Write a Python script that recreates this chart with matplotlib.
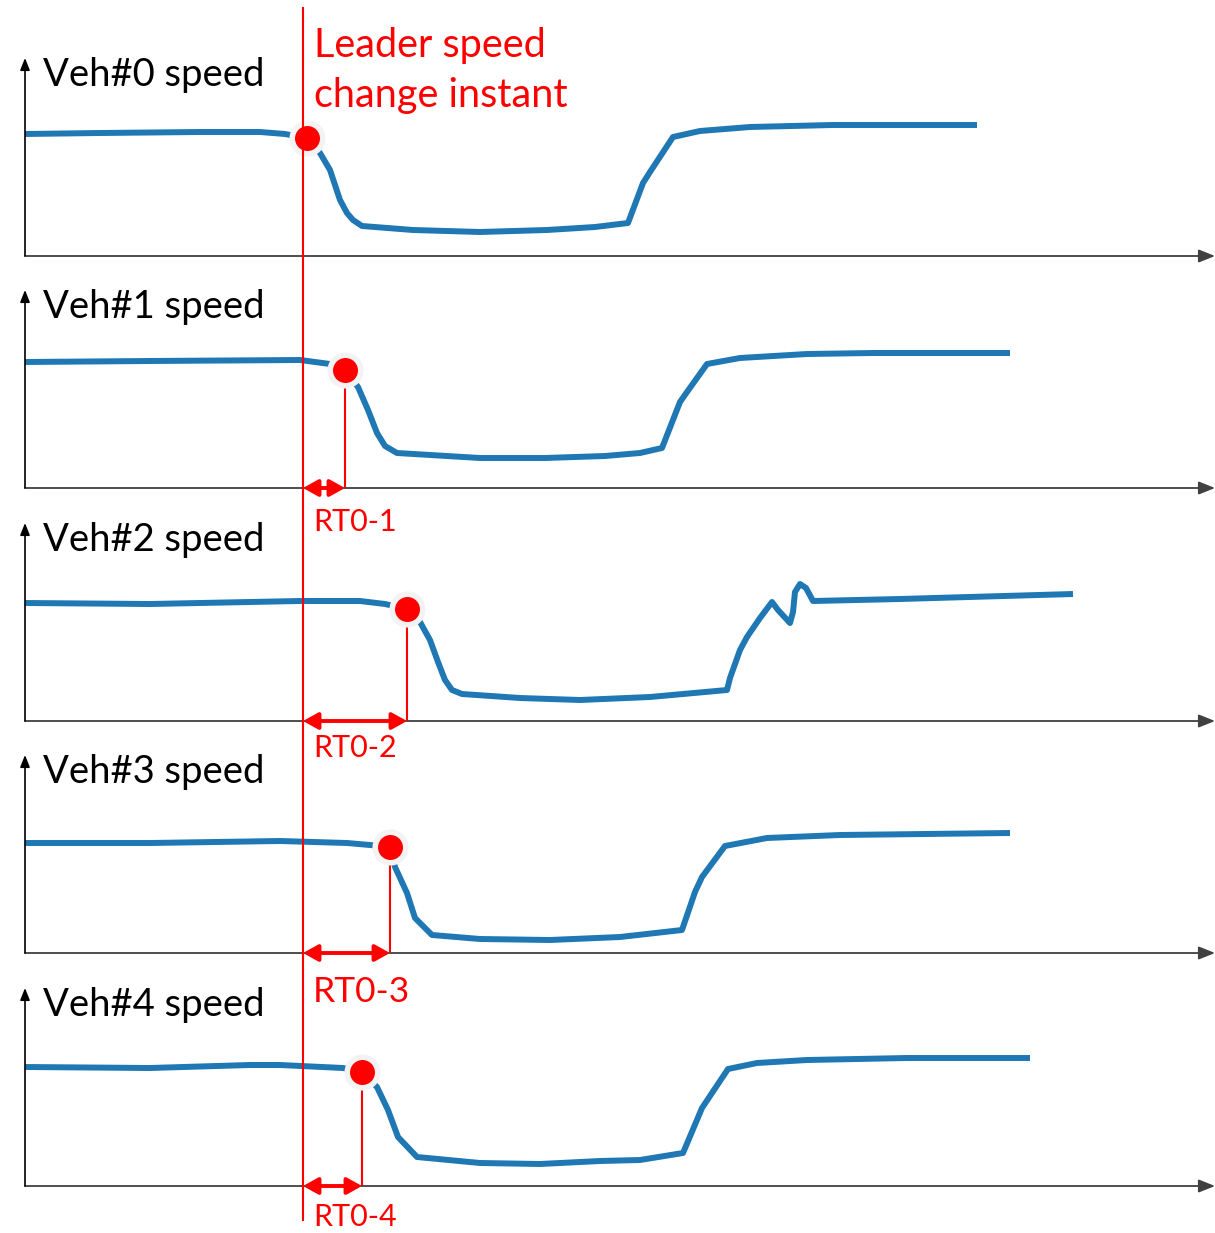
import matplotlib.pyplot as plt
import matplotlib.transforms as mtransforms
from matplotlib.lines import Line2D

plt.rcParams['font.family'] = ['Lato', 'DejaVu Sans']

# time / speed samples (arbitrary units)
t0 = [0, 7.5, 17.5, 23.5, 26.0, 28.2, 29.5, 30.5, 31.5, 32.2, 32.8, 33.7, 38.8, 45.5, 52.2, 57.0, 60.3, 61.8, 62.5, 64.8, 67.5, 72.5, 80.8, 95.2]
v0 = [12.2, 12.3, 12.4, 12.4, 12.2, 11.8, 10.3, 8.6, 5.6, 4.3, 3.6, 3.0, 2.6, 2.4, 2.6, 2.9, 3.3, 7.3, 8.4, 11.9, 12.5, 12.9, 13.1, 13.1]

t1 = [0, 12.5, 27.5, 30.5, 32.0, 33.3, 34.3, 35.2, 36.0, 37.2, 45.5, 52.0, 58.0, 61.5, 63.7, 65.5, 66.2, 68.2, 71.5, 78.2, 84.8, 98.5]
v1 = [12.6, 12.7, 12.8, 12.4, 11.8, 10.1, 7.8, 5.5, 4.2, 3.5, 3.0, 3.0, 3.2, 3.5, 4.0, 8.6, 9.6, 12.4, 13.0, 13.4, 13.5, 13.5]

t2 = [0, 12.5, 27.5, 33.5, 36.0, 38.2, 39.5, 40.5, 41.3, 42.0, 42.7, 43.7, 49.5, 55.5, 62.5, 70.2, 70.5, 71.5, 72.2, 73.5, 74.7, 75.3, 76.5, 76.8, 77.0, 77.5, 78.1, 78.8, 87.5, 104.8]
v2 = [11.8, 11.7, 12.0, 12.0, 11.7, 11.2, 9.9, 8.1, 5.9, 4.1, 3.1, 2.7, 2.3, 2.1, 2.4, 3.1, 4.3, 7.1, 8.4, 10.3, 11.9, 11.1, 9.8, 10.9, 12.9, 13.7, 13.3, 12.0, 12.2, 12.7]

t3 = [0, 12.5, 25.5, 32.2, 34.5, 36.5, 37.0, 38.2, 39.0, 40.7, 45.5, 52.5, 59.5, 65.7, 67.0, 67.7, 70.0, 74.2, 81.5, 98.5]
v3 = [11.0, 11.0, 11.2, 11.0, 10.8, 10.6, 8.6, 6.0, 3.5, 1.8, 1.4, 1.3, 1.6, 2.3, 6.1, 7.6, 10.7, 11.5, 11.8, 12.0]

t4 = [0, 12.5, 22.5, 25.5, 31.8, 33.7, 35.2, 36.3, 37.3, 39.2, 45.5, 51.5, 57.5, 61.5, 65.8, 67.7, 70.3, 73.2, 78.2, 88.2, 100.5]
v4 = [11.9, 11.8, 12.1, 12.1, 11.8, 11.4, 9.9, 7.6, 4.9, 2.9, 2.3, 2.2, 2.5, 2.6, 3.3, 7.8, 11.7, 12.3, 12.6, 12.8, 12.8]

curves_t = [t0, t1, t2, t3, t4]
curves_v = [v0, v1, v2, v3, v4]

# reaction points (time, speed)
dot_t = [28.2, 32.0, 38.2, 36.5, 33.7]
dot_v = [11.8, 11.8, 11.2, 10.6, 11.4]

leader_t = 27.8
veh_labels = ['Veh#0 speed', 'Veh#1 speed', 'Veh#2 speed', 'Veh#3 speed', 'Veh#4 speed']
rt_labels = ['', 'RT0-1', 'RT0-2', 'RT0-3', 'RT0-4']
rt_sizes = [0, 22, 22, 25.5, 22]
rt_y = [0, -3.4, -2.7, -3.9, -3.1]

W, H = 1215, 1233
baselines = [256, 488, 721, 953, 1186]
BLUE = '#1f77b4'
RED = '#ff0000'

fig = plt.figure(figsize=(W / 100, H / 100), dpi=100)
axes = []
for i, yb in enumerate(baselines):
    ax = fig.add_axes([25 / W, 1 - yb / H, 1180 / W, 200 / H])
    ax.set_xlim(0, 118)
    ax.set_ylim(0, 20)
    ax.axis('off')
    axes.append(ax)

    # axes with arrows
    ax.annotate('', xy=(119, 0), xytext=(0, 0), annotation_clip=False,
                arrowprops=dict(arrowstyle='-|>,head_length=0.55,head_width=0.22',
                                mutation_scale=18, color='#404040', lw=1.3,
                                shrinkA=0, shrinkB=0))
    ax.annotate('', xy=(0, 19.8), xytext=(0, 0), annotation_clip=False,
                arrowprops=dict(arrowstyle='-|>,head_length=0.45,head_width=0.18',
                                mutation_scale=16, color='black', lw=1.2,
                                shrinkA=0, shrinkB=0))

    ax.plot(curves_t[i], curves_v[i], color=BLUE, lw=4.3, solid_capstyle='butt',
            solid_joinstyle='round', zorder=2)
    ax.plot(dot_t[i], dot_v[i], 'o', ms=22, color=RED, mec='#f3f3f3', mew=4,
            zorder=4, clip_on=False)

    ax.text(1.8, 18.1, veh_labels[i], fontsize=27.5, va='center', ha='left', color='black')

    if i > 0:
        ax.plot([dot_t[i], dot_t[i]], [dot_v[i], 0], color=RED, lw=1.5, zorder=3)
        ax.annotate('', xy=(dot_t[i], 0), xytext=(leader_t, 0), annotation_clip=False,
                    arrowprops=dict(arrowstyle='<|-|>,head_length=0.45,head_width=0.25',
                                    mutation_scale=20, color=RED, lw=2.8,
                                    shrinkA=0, shrinkB=0), zorder=5)
        ax.text(28.8, rt_y[i], rt_labels[i], fontsize=rt_sizes[i], va='center',
                ha='left', color=RED)

axes[0].text(28.9, 21.1, 'Leader speed', fontsize=28.5, va='center', ha='left', color=RED)
axes[0].text(28.9, 16.1, 'change instant', fontsize=28.5, va='center', ha='left', color=RED)

# leader change instant line through all panels
trans = mtransforms.blended_transform_factory(axes[0].transData, fig.transFigure)
fig.add_artist(Line2D([leader_t, leader_t], [1 - 8 / H, 1 - 1220 / H],
                      transform=trans, color=RED, lw=1.5, zorder=3))

fig.savefig('out.png', dpi=100, facecolor='white')
